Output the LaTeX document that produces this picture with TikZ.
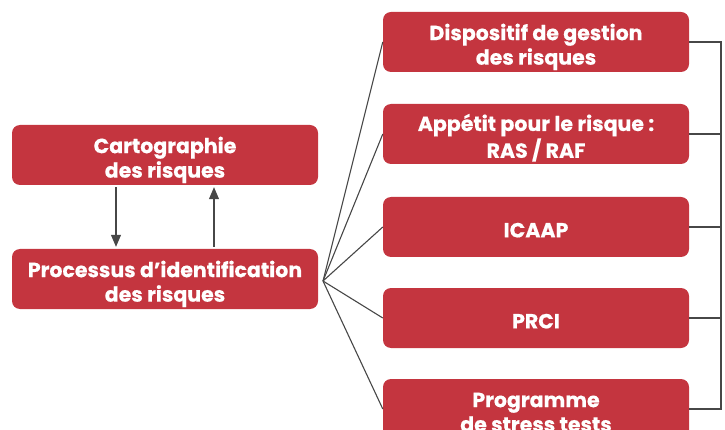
\documentclass[tikz,border=0pt]{standalone}
\usepackage{fontspec}
\setmainfont{Poppins}[BoldFeatures={FakeBold=0.5}]
\usetikzlibrary{arrows.meta}
\definecolor{boxred}{HTML}{C4353F}
\definecolor{linegray}{HTML}{474747}
% box label: centred lines, drawn a little below the geometric centre
\newcommand{\boxlines}[1]{\raisebox{-5.5pt}[\height][\depth]{\begin{tabular}{@{}c@{}}#1\end{tabular}}}
\begin{document}
\begin{tikzpicture}[x=1pt,y=-1pt,
  box/.style={fill=boxred, rounded corners=8pt, text=white,
    font=\bfseries\fontsize{20.5}{24.5}\selectfont,
    minimum width=306pt, minimum height=60pt, inner sep=0pt},
  link/.style={draw=linegray, line width=1.1pt},
  arr/.style={link, -{Triangle[width=10pt,length=12pt]}, shorten <=2pt, shorten >=2pt}]
\useasboundingbox (0,0) rectangle (725,430);
\clip (0,0) rectangle (725,430);

% left column
\node[box] (carto) at (165,155) {\boxlines{Cartographie\\des risques}};
\node[box] (ident) at (165,279) {\boxlines{Processus d’identification\\des risques}};
\draw[arr] ([xshift=-49pt]carto.south) -- ([xshift=-49pt]ident.north);
\draw[arr] ([xshift=49pt]ident.north) -- ([xshift=49pt]carto.south);

% right column
\node[box] (b1) at (536,42)  {\boxlines{Dispositif de gestion\\des risques}};
\node[box] (b2) at (536,134) {\boxlines{Appétit pour le risque :\\RAS / RAF}};
\node[box] (b3) at (536,227) {\boxlines{ICAAP}};
\node[box] (b4) at (536,318) {\boxlines{PRCI}};
\node[box] (b5) at (536,409) {\boxlines{Programme\\de stress tests}};

% fan from the identification process
\coordinate (fan) at (323,281);
\foreach \b in {b1,b2,b3,b4,b5} \draw[link] (fan) -- (\b.west);

% bracket on the right
\coordinate (rail) at (721,0);
\draw[link] (b1.east) -- (b1.east -| rail) -- (b5.east -| rail) -- (b5.east);
\foreach \b in {b2,b3,b4} \draw[link] (\b.east) -- (\b.east -| rail);
\end{tikzpicture}
\end{document}
